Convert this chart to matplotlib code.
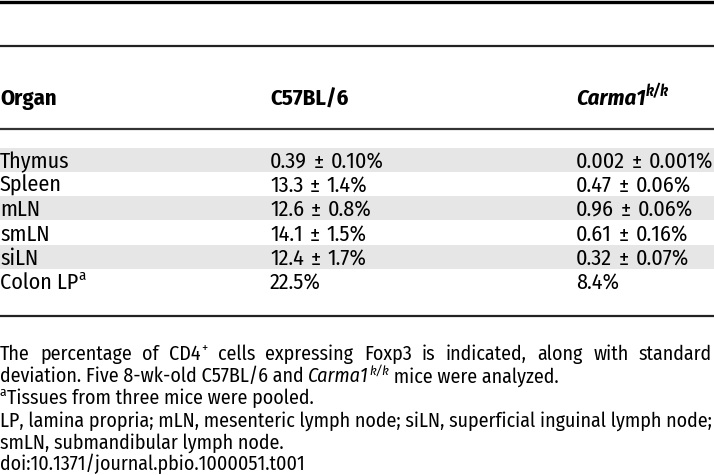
import matplotlib
matplotlib.use("Agg")
import matplotlib.pyplot as plt
from matplotlib import font_manager

# ---------------- data ----------------
organs = ["Thymus", "Spleen", "mLN", "smLN", "siLN", "Colon LP"]
organ_notes = ["", "", "", "", "", "a"]
c57_mean = ["0.39", "13.3", "12.6", "14.1", "12.4", "22.5"]
c57_sd = ["0.10", "1.4", "0.8", "1.5", "1.7", ""]
carma_mean = ["0.002", "0.47", "0.96", "0.61", "0.32", "8.4"]
carma_sd = ["0.001", "0.06", "0.06", "0.16", "0.07", ""]
shaded = [True, False, True, False, True, False]
header_labels = ["Organ", "C57BL/6", "Carma1"]
header_sup = "k/k"
foot_line1 = ["The", "percentage", "of", "CD4^+", "cells", "expressing", "Foxp3", "is",
              "indicated,", "along", "with", "standard"]
foot_line2 = "deviation. Five 8-wk-old C57BL/6 and "
foot_line2b = " mice were analyzed."
foot_line3 = "Tissues from three mice were pooled."
foot_line4 = "LP, lamina propria; mLN, mesenteric lymph node; siLN, superficial inguinal lymph node;"
foot_line5 = "smLN, submandibular lymph node."
foot_line6 = "doi:10.1371/journal.pbio.1000051.t001"

# ---------------- fonts ----------------
avail = {f.name for f in font_manager.fontManager.ttflist}
fam = "DejaVu Sans"
for cand in ["Fira Sans Condensed", "Encode Sans Semi Condensed", "Open Sans", "DejaVu Sans"]:
    if cand in avail:
        fam = cand
        break
FAM = [fam, "DejaVu Sans"]

W, H = 714, 475
fig = plt.figure(figsize=(W / 100, H / 100), dpi=100)
ax = fig.add_axes([0, 0, 1, 1])
ax.set_xlim(0, W)
ax.set_ylim(H, 0)
ax.axis("off")
renderer = fig.canvas.get_renderer()


def measure(s, **kw):
    t = ax.text(0, 0, "|" + s + "|", family=FAM, **kw)
    w1 = t.get_window_extent(renderer).width
    t.remove()
    t = ax.text(0, 0, "||", family=FAM, **kw)
    w2 = t.get_window_extent(renderer).width
    t.remove()
    return w1 - w2


# fit font sizes to widths seen in the reference
base = 10.0
FS = base * 711.0 / measure(foot_line4, fontsize=base)           # footnotes
FS_T = (0.7 * base * 67.0 / measure("Thymus", fontsize=base) +
        0.3 * base * 54.0 / measure("0.002", fontsize=base))      # table body
FS_H = base * 78.0 / measure("C57BL/6", fontsize=base, weight="bold")  # header


def draw_runs(x, y, parts, fs):
    for text, kw, sup in parts:
        size = fs * 0.68 if sup else fs
        yy = y - fs * 100 / 72.0 * 0.40 if sup else y
        ax.text(x, yy, text, fontsize=size, family=FAM, ha="left", va="baseline", **kw)
        x += measure(text, fontsize=size, **kw)
    return x


# ---------------- layout ----------------
col_x = [0, 270, 576]
row_y = [160, 184, 208, 233, 257, 281]
row_h = 24.3
header_y = 97

for yc, sh in zip(row_y, shaded):
    if sh:
        ax.axhspan(yc - row_h / 2, yc + row_h / 2, xmin=0, xmax=1, color="#e6e6e6", lw=0, zorder=0)

ax.axhline(1.5, color="black", lw=2.4)
ax.axhline(46, color="#222222", lw=1.6)
ax.axhline(129, color="#333333", lw=1.6)
ax.axhline(316, color="#222222", lw=1.6)

bold = dict(weight="bold")
bi = dict(weight="bold", style="italic")
ital = dict(style="italic")

# header
offh = FS_H * 100 / 72.0 * 0.36
draw_runs(col_x[0], header_y + offh, [(header_labels[0], bold, False)], FS_H)
draw_runs(col_x[1], header_y + offh, [(header_labels[1], bold, False)], FS_H)
draw_runs(col_x[2], header_y + offh, [(header_labels[2], bi, False), (header_sup, bi, True)], FS_H)

# gap around the plus-minus sign, so "0.002 ± 0.001%" spans about 137 px
w_plain = measure("0.002", fontsize=FS_T) + measure("\u00b1", fontsize=FS_T) + measure("0.001%", fontsize=FS_T)
pm_gap = max((137.0 - w_plain) / 2.0, measure(" ", fontsize=FS_T))


def draw_value(x, y, mean, sd):
    if sd:
        x = draw_runs(x, y, [(mean, {}, False)], FS_T) + pm_gap
        x = draw_runs(x, y, [("\u00b1", {}, False)], FS_T) + pm_gap
        draw_runs(x, y, [(sd + "%", {}, False)], FS_T)
    else:
        draw_runs(x, y, [(mean + "%", {}, False)], FS_T)


offt = FS_T * 100 / 72.0 * 0.36
for i, org in enumerate(organs):
    yb = row_y[i] + offt
    parts = [(org, {}, False)]
    if organ_notes[i]:
        parts.append((organ_notes[i], {}, True))
    draw_runs(col_x[0], yb, parts, FS_T)
    draw_value(col_x[1], yb, c57_mean[i], c57_sd[i])
    draw_value(col_x[2], yb, carma_mean[i], carma_sd[i])

# footnotes
off = FS * 100 / 72.0 * 0.36
fy = [v + off for v in [353, 375, 397, 419, 441, 463]]
word_parts = []
for w in foot_line1:
    if "^" in w:
        a, b = w.split("^")
        word_parts.append([(a, {}, False), (b, {}, True)])
    else:
        word_parts.append([(w, {}, False)])


def parts_width(parts):
    tot = 0
    for text, kw, sup in parts:
        size = FS * 0.68 if sup else FS
        tot += measure(text, fontsize=size, **kw)
    return tot


widths = [parts_width(p) for p in word_parts]
gap = (712 - sum(widths)) / (len(widths) - 1)
x = 0
for p, wd in zip(word_parts, widths):
    draw_runs(x, fy[0], p, FS)
    x += wd + gap

draw_runs(0, fy[1], [(foot_line2, {}, False), ("Carma1", ital, False), (header_sup, ital, True),
                     (foot_line2b, {}, False)], FS)
draw_runs(0, fy[2], [("a", {}, True), (foot_line3, {}, False)], FS)
draw_runs(0, fy[3], [(foot_line4, {}, False)], FS)
draw_runs(0, fy[4], [(foot_line5, {}, False)], FS)
draw_runs(0, fy[5], [(foot_line6, {}, False)], FS)

fig.savefig("out.png", dpi=100)
